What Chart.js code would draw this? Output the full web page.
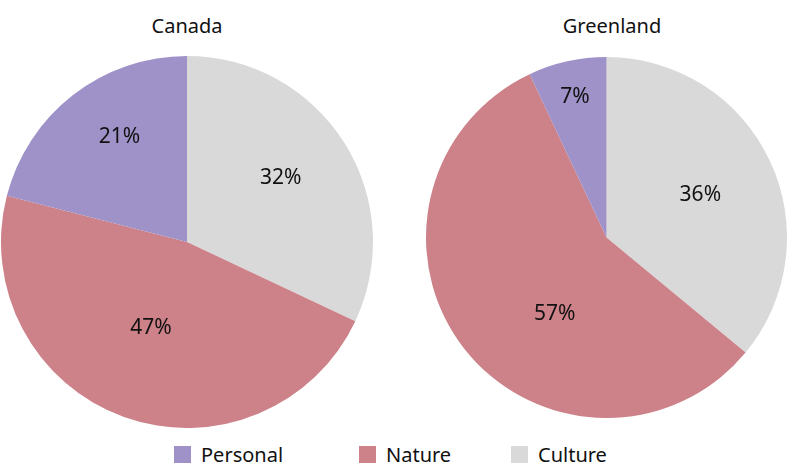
<!DOCTYPE html>
<html>
<head>
<meta charset="utf-8">
<script src="https://cdn.jsdelivr.net/npm/chart.js@4"></script>
<style>
  html, body { margin:0; padding:0; background:#fff; }
  body { width:800px; height:475px; position:relative; overflow:hidden; font-family:"Noto Sans", "Open Sans", sans-serif; }
  .box { position:absolute; }
  .title { position:absolute; font-size:20px; color:#111; text-align:center; width:300px; }
  #legend { position:absolute; top:441px; left:0; width:800px; height:30px; font-size:20px; color:#111; }
  .li { position:absolute; display:flex; align-items:center; }
  .sw { width:17px; height:17px; display:inline-block; margin-right:10px; }
</style>
</head>
<body>
<div class="title" style="left:37px; top:12px;" id="t0"></div>
<div class="title" style="left:462px; top:12px;" id="t1"></div>
<div class="box" style="left:1px; top:56px; width:372px; height:372px;"><canvas id="c0"></canvas></div>
<div class="box" style="left:426px; top:57px; width:361px; height:361px;"><canvas id="c1"></canvas></div>
<div id="legend"></div>
<script>
// ---- data ----
const categories = ["Personal", "Nature", "Culture"];
const regions = ["Canada", "Greenland"];
const canadaValues = [21, 47, 32];
const greenlandValues = [7, 57, 36];
const colors = ["#9F92C8", "#CD8189", "#D9D9D9"];

// drawing order: clockwise from top = Culture, Nature, Personal
const order = [2, 1, 0];

// label placement tweaks (radius fraction, angle shift in degrees) per drawn slice
const labelStyles = [
  { r: [0.61, 0.50, 0.67], a: [-2, 3, 5] },
  { r: [0.57, 0.51, 0.80], a: [1, -18, 0] }
];

const pctLabels = {
  id: 'pctLabels',
  afterDatasetsDraw(chart, args, opts) {
    const ctx = chart.ctx;
    const meta = chart.getDatasetMeta(0);
    const ds = chart.data.datasets[0];
    ctx.save();
    ctx.font = '21px "Noto Sans", "Open Sans", sans-serif';
    ctx.fillStyle = '#111';
    ctx.textAlign = 'center';
    ctx.textBaseline = 'middle';
    meta.data.forEach((arc, i) => {
      const p = arc.getProps(['x','y','startAngle','endAngle','outerRadius'], true);
      const mid = (p.startAngle + p.endAngle) / 2 + (opts.a[i] || 0) * Math.PI / 180;
      const r = p.outerRadius * opts.r[i];
      ctx.fillText(ds.data[i] + '%', p.x + Math.cos(mid) * r, p.y + Math.sin(mid) * r);
    });
    ctx.restore();
  }
};

function makeChart(id, values, styleIdx) {
  new Chart(document.getElementById(id), {
    type: 'pie',
    data: {
      labels: order.map(i => categories[i]),
      datasets: [{
        data: order.map(i => values[i]),
        backgroundColor: order.map(i => colors[i]),
        borderWidth: 0
      }]
    },
    options: {
      responsive: true,
      maintainAspectRatio: false,
      animation: false,
      layout: { padding: 0 },
      plugins: {
        legend: { display: false },
        tooltip: { enabled: false },
        pctLabels: labelStyles[styleIdx]
      }
    },
    plugins: [pctLabels]
  });
}

document.getElementById('t0').textContent = regions[0];
document.getElementById('t1').textContent = regions[1];
makeChart('c0', canadaValues, 0);
makeChart('c1', greenlandValues, 1);

// legend
const legendX = [174, 359, 511];
const lg = document.getElementById('legend');
categories.forEach((c, i) => {
  const d = document.createElement('div');
  d.className = 'li';
  d.style.left = legendX[i] + 'px';
  d.style.top = '0px';
  const s = document.createElement('span');
  s.className = 'sw';
  s.style.background = colors[i];
  const t = document.createElement('span');
  t.textContent = c;
  d.appendChild(s); d.appendChild(t);
  lg.appendChild(d);
});
</script>
</body>
</html>
